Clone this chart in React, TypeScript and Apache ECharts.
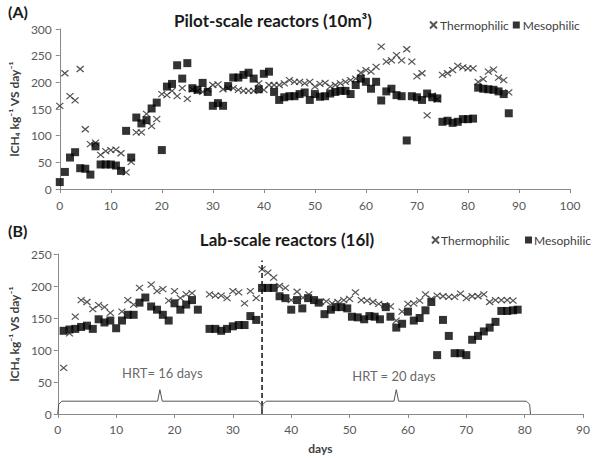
import React, { useEffect, useRef } from 'react';
import * as echarts from 'echarts';

// ---------- Data (A) Pilot-scale reactors ----------
const pilotThermophilic: [number, number][] = [
  [0, 156], [1, 217], [2, 174], [3, 166], [4, 225], [5, 112], [6, 84], [7, 87], [8, 64], [9, 71],
  [10, 73], [11, 74], [12, 67], [13, 31], [14, 51], [15, 106], [16, 106], [17, 141], [18, 118], [19, 131],
  [20, 178], [21, 176], [22, 184], [23, 174], [24, 189], [25, 169], [26, 187], [27, 184], [28, 182], [29, 187],
  [30, 195], [31, 196], [32, 187], [33, 189], [34, 189], [35, 186], [36, 184], [37, 184], [38, 184], [39, 198],
  [40, 186], [41, 195], [42, 195], [43, 195], [44, 198], [45, 204], [46, 201], [47, 201], [48, 198], [49, 201],
  [50, 192], [51, 197], [52, 199], [53, 192], [54, 195], [55, 198], [56, 201], [57, 204], [58, 207], [59, 218],
  [60, 223], [61, 220], [62, 229], [63, 267], [64, 239], [65, 241], [66, 251], [67, 241], [68, 262], [69, 239],
  [70, 211], [71, 217], [72, 138], [73, 175], [74, 168], [75, 214], [76, 217], [77, 223], [78, 231], [79, 228],
  [80, 226], [81, 226], [82, 201], [83, 206], [84, 220], [85, 224], [86, 209], [87, 204], [88, 181],
];
const pilotMesophilic: [number, number][] = [
  [0, 13], [1, 32], [2, 59], [3, 69], [4, 39], [5, 38], [6, 27], [7, 80], [8, 46], [9, 46],
  [10, 46], [11, 44], [12, 34], [13, 109], [14, 59], [15, 134], [16, 123], [17, 129], [18, 151], [19, 162],
  [20, 73], [21, 192], [22, 197], [23, 232], [24, 207], [25, 236], [26, 189], [27, 186], [28, 199], [29, 182],
  [30, 156], [31, 161], [32, 156], [33, 193], [34, 209], [35, 209], [36, 214], [37, 218], [38, 207], [39, 187],
  [40, 216], [41, 220], [42, 182], [43, 167], [44, 172], [45, 174], [46, 174], [47, 178], [48, 181], [49, 167],
  [50, 178], [51, 173], [52, 174], [53, 179], [54, 182], [55, 184], [56, 184], [57, 178], [58, 195], [59, 207],
  [60, 201], [61, 188], [62, 201], [63, 166], [64, 183], [65, 188], [66, 176], [67, 174], [68, 91], [69, 174],
  [70, 172], [71, 167], [72, 179], [73, 172], [74, 170], [75, 126], [76, 128], [77, 124], [78, 126], [79, 131],
  [80, 131], [81, 132], [82, 190], [83, 188], [84, 187], [85, 186], [86, 183], [87, 178], [88, 142],
];

// ---------- Data (B) Lab-scale reactors ----------
const labThermophilic: [number, number][] = [
  [1, 72], [2, 126], [3, 152], [4, 178], [5, 175], [6, 164], [7, 170], [8, 167], [9, 158],
  [11, 160], [12, 178], [13, 171], [14, 197], [16, 202], [17, 192], [18, 195], [19, 177],
  [20, 192], [21, 181], [22, 187], [23, 189], [26, 187], [27, 185], [28, 185], [29, 181],
  [30, 192], [31, 190], [32, 173], [33, 192], [34, 181], [35, 226], [36, 221], [37, 213], [38, 200], [39, 197],
  [40, 178], [41, 191], [42, 182], [43, 187], [44, 177], [45, 175], [46, 176], [47, 173], [48, 175], [49, 178],
  [50, 180], [51, 190], [52, 178], [53, 177], [54, 175], [55, 172], [56, 170], [57, 168], [58, 146], [59, 160],
  [60, 172], [61, 173], [62, 177], [63, 187], [64, 180], [65, 185], [66, 184], [67, 183], [68, 183], [69, 188],
  [70, 181], [71, 184], [72, 184], [73, 187], [74, 175], [75, 178], [76, 178], [77, 178], [78, 177],
];
const labMesophilic: [number, number][] = [
  [1, 130], [2, 132], [3, 133], [4, 136], [5, 138], [6, 133], [7, 148], [8, 143], [9, 146],
  [10, 134], [11, 146], [12, 155], [13, 155], [14, 174], [15, 182], [16, 168], [17, 163], [18, 155], [19, 146],
  [20, 173], [21, 163], [22, 171], [23, 178], [24, 163], [26, 133], [27, 133], [28, 130], [29, 133],
  [30, 137], [31, 139], [32, 139], [33, 153], [34, 147], [35, 197], [36, 197], [37, 197], [38, 184], [39, 181],
  [40, 163], [41, 178], [41.9, 165], [42.9, 181], [43.9, 178], [44.7, 174], [45.7, 156], [46.8, 163], [47.6, 167],
  [48.6, 167], [49.6, 165], [50.4, 152], [51.4, 151], [52.5, 148], [53.4, 153], [54.3, 152], [55.2, 148],
  [56.2, 167], [57, 152], [58, 135], [59, 141], [60, 160], [61, 146], [62, 150], [63, 162], [64, 175],
  [65, 92], [66, 147], [67, 122], [68, 95], [69, 95], [70, 92], [71, 116], [72, 122], [73, 129], [74, 135],
  [75, 144], [76, 161], [77, 161], [78, 162], [78.8, 163],
];

// ---------- Annotations (B) ----------
const hrtChange: [number, number][] = [[35, 0], [35, 240]];
const brace16: [number, number][] = [
  [0, 0], [0.15, 15], [0.7, 20], [17.1, 20], [17.5, 38], [17.9, 20], [34.3, 20], [34.85, 15], [35, 0],
];
const brace20: [number, number][] = [
  [35, 0], [35.15, 15], [35.7, 20], [57.6, 20], [58, 38], [58.4, 20], [80.3, 20], [80.85, 15], [81, 0],
];
const hrtLabels: [number, number, string][] = [
  [17.9, 64, 'HRT= 16 days'],
  [57.6, 59, 'HRT = 20 days'],
];

const pilotXTicks = { min: 0, max: 100, interval: 10 };
const pilotYTicks = { min: 0, max: 300, interval: 50 };
const labXTicks = { min: 0, max: 90, interval: 10 };
const labYTicks = { min: 0, max: 250, interval: 50 };

const FONT = 'Lato, "DejaVu Sans", sans-serif';
const X_PATH = 'path://M0,0L10,10M10,0L0,10';
const AXIS_COLOR = '#8a8a8a';
const LABEL_COLOR = '#595959';
const Y_NAME = 'lCH₄ kg⁻¹ VS day⁻¹';

function axisBase() {
  return {
    type: 'value' as const,
    axisLine: { show: true, lineStyle: { color: AXIS_COLOR, width: 1 } },
    axisTick: { show: true, length: 4, lineStyle: { color: AXIS_COLOR } },
    splitLine: { show: false },
    axisLabel: { fontSize: 12, color: LABEL_COLOR, fontFamily: FONT },
  };
}

const thermoStyle = {
  symbol: X_PATH,
  symbolSize: [7, 6],
  itemStyle: { color: '#2a2a2a', borderColor: '#2a2a2a', borderWidth: 1.2 },
};
const mesoStyle = {
  symbol: 'rect',
  symbolSize: 8,
  itemStyle: { color: '#000' },
};

export default function App() {
  const ref = useRef<HTMLDivElement>(null);
  useEffect(() => {
    document.body.style.margin = '0';
    if (!ref.current) return;
    const chart = echarts.init(ref.current, undefined, { renderer: 'svg' });
    const option: any = {
      animation: false,
      textStyle: { fontFamily: FONT },
      grid: [
        { left: 53, width: 517, top: 29, height: 160 },
        { left: 51, width: 534, top: 254, height: 160 },
      ],
      xAxis: [
        { ...axisBase(), gridIndex: 0, ...pilotXTicks, axisLabel: { ...axisBase().axisLabel, margin: 10 } },
        {
          ...axisBase(), gridIndex: 1, ...labXTicks, axisLabel: { ...axisBase().axisLabel, margin: 9 },
          name: 'days', nameLocation: 'middle', nameGap: 28,
          nameTextStyle: { fontSize: 12, fontWeight: 'bold', color: '#404040', fontFamily: FONT },
        },
      ],
      yAxis: [
        {
          ...axisBase(), gridIndex: 0, ...pilotYTicks, axisLabel: { ...axisBase().axisLabel, margin: 8 },
          name: Y_NAME, nameLocation: 'middle', nameGap: 36, nameRotate: 90,
          nameTextStyle: { fontSize: 12, fontWeight: 'bold', color: '#404040', fontFamily: FONT },
        },
        {
          ...axisBase(), gridIndex: 1, ...labYTicks, axisLabel: { ...axisBase().axisLabel, margin: 6 },
          name: Y_NAME, nameLocation: 'middle', nameGap: 35, nameRotate: 90,
          nameTextStyle: { fontSize: 12, fontWeight: 'bold', color: '#404040', fontFamily: FONT },
        },
      ],
      legend: [
        {
          data: [{ name: 'Thermophilic', icon: X_PATH }, { name: 'Mesophilic', icon: 'rect' }],
          left: 429, top: 19, padding: 0, itemWidth: 7, itemHeight: 7, itemGap: 4, selectedMode: false,
          textStyle: { fontSize: 12, color: '#404040', fontFamily: FONT, padding: [0, 0, 0, -2] },
        },
        {
          data: [{ name: 'Thermophilic', icon: X_PATH }],
          left: 431, top: 234, padding: 0, itemWidth: 7, itemHeight: 7, selectedMode: false,
          textStyle: { fontSize: 12, color: '#404040', fontFamily: FONT, padding: [0, 0, 0, -3] },
        },
        {
          data: [{ name: 'Mesophilic', icon: 'rect' }],
          left: 525, top: 234, padding: 0, itemWidth: 7, itemHeight: 7, selectedMode: false,
          textStyle: { fontSize: 12, color: '#404040', fontFamily: FONT, padding: [0, 0, 0, -3] },
        },
      ],
      graphic: [
        { type: 'text', left: 8, top: 3, style: { text: '(A)', font: `bold 16px ${FONT}`, fill: '#1a1a1a' } },
        { type: 'text', x: 273, y: 20, style: { text: 'Pilot-scale reactors (10m³)', font: `bold 17px ${FONT}`, fill: '#1a1a1a', align: 'center', verticalAlign: 'middle' } },
        { type: 'text', left: 8, top: 222, style: { text: '(B)', font: `bold 16px ${FONT}`, fill: '#1a1a1a' } },
        { type: 'text', x: 287, y: 239, style: { text: 'Lab-scale reactors (16l)', font: `bold 17px ${FONT}`, fill: '#1a1a1a', align: 'center', verticalAlign: 'middle' } },
      ],
      series: [
        { name: 'Thermophilic', type: 'scatter', xAxisIndex: 0, yAxisIndex: 0, data: pilotThermophilic, ...thermoStyle },
        { name: 'Mesophilic', type: 'scatter', xAxisIndex: 0, yAxisIndex: 0, data: pilotMesophilic, ...mesoStyle },
        { name: 'Mesophilic', type: 'scatter', xAxisIndex: 1, yAxisIndex: 1, data: labMesophilic, ...mesoStyle },
        { name: 'Thermophilic', type: 'scatter', xAxisIndex: 1, yAxisIndex: 1, data: labThermophilic, ...thermoStyle },
        {
          type: 'line', xAxisIndex: 1, yAxisIndex: 1, data: hrtChange, showSymbol: false, symbol: 'none', silent: true,
          lineStyle: { color: '#111', width: 1.5, type: [5, 3] },
        },
        {
          type: 'line', xAxisIndex: 1, yAxisIndex: 1, data: brace16, showSymbol: false, symbol: 'none', silent: true,
          lineStyle: { color: '#555', width: 1 },
        },
        {
          type: 'line', xAxisIndex: 1, yAxisIndex: 1, data: brace20, showSymbol: false, symbol: 'none', silent: true,
          lineStyle: { color: '#555', width: 1 },
        },
        {
          type: 'scatter', xAxisIndex: 1, yAxisIndex: 1, data: hrtLabels, symbolSize: 1, silent: true,
          itemStyle: { color: 'rgba(0,0,0,0)' },
          label: {
            show: true, position: 'inside', formatter: (p: any) => p.value[2],
            fontSize: 13, color: '#404040', fontFamily: FONT,
          },
        },
      ],
    };
    chart.setOption(option);
    return () => chart.dispose();
  }, []);
  return <div ref={ref} style={{ width: 593, height: 458 }} />;
}
